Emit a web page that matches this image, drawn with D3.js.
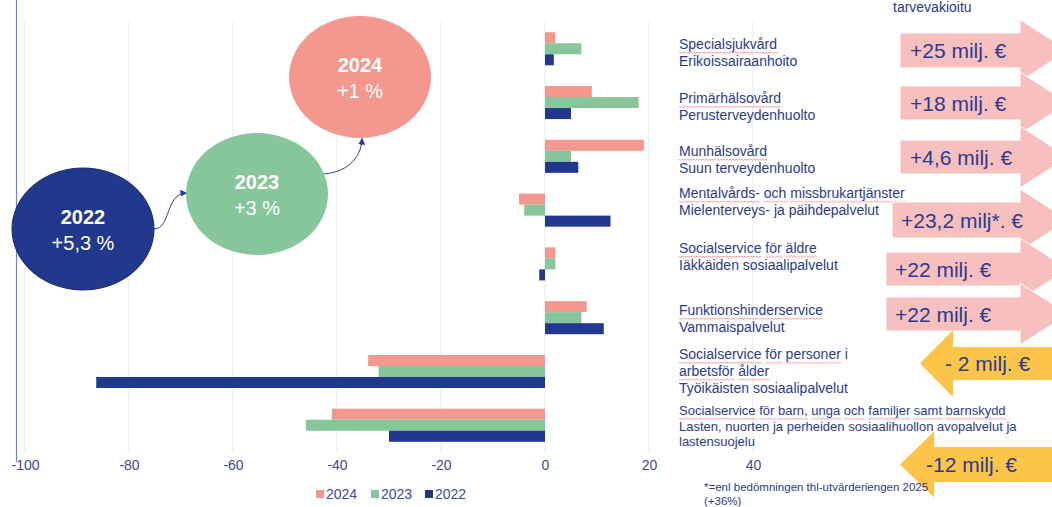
<!DOCTYPE html>
<html>
<head>
<meta charset="utf-8">
<script src="https://cdn.jsdelivr.net/npm/d3@7"></script>
<style>
  body { margin: 0; background: #fff; }
  svg { display: block; font-family: "Liberation Sans", Arial, sans-serif; }
</style>
</head>
<body>
<script>
// --- data ---
const categories = ["spec", "prim", "mun", "mental", "aldre", "funk", "arbets", "barn"];
const years = ["2024", "2023", "2022"];
const values2024 = [2, 9, 19, -5, 2, 8, -34, -41];
const values2023 = [7, 18, 5, -4, 2, 7, -32, -46];
const values2022 = [1.7, 5, 6.4, 12.6, -1.1, 11.3, -86.3, -30];
const xTicks = [-100, -80, -60, -40, -20, 0, 20, 40];

const labelSv = [
  ["Specialsjukvård"],
  ["Primärhälsovård"],
  ["Munhälsovård"],
  ["Mentalvårds- och missbrukartjänster"],
  ["Socialservice för äldre"],
  ["Funktionshinderservice"],
  ["Socialservice för personer i", "arbetsför ålder"],
  ["Socialservice för barn, unga och familjer samt barnskydd"]
];
const labelFi = [
  ["Erikoissairaanhoito"],
  ["Perusterveydenhuolto"],
  ["Suun terveydenhuolto"],
  ["Mielenterveys- ja päihdepalvelut"],
  ["Iäkkäiden sosiaalipalvelut"],
  ["Vammaispalvelut"],
  ["Työikäisten sosiaalipalvelut"],
  ["Lasten, nuorten ja perheiden sosiaalihuollon avopalvelut ja", "lastensuojelu"]
];
const changes = ["+25 milj. €", "+18 milj. €", "+4,6 milj. €", "+23,2 milj*. €",
                 "+22 milj. €", "+22 milj. €", "- 2 milj. €", "-12 milj. €"];

const growthYears = ["2022", "2023", "2024"];
const growthText = ["+5,3 %", "+3 %", "+1 %"];

const colors = { "2024": "#F4978E", "2023": "#86C69A", "2022": "#21398D" };
const navy = "#2B3A8E";

// --- layout ---
const W = 1052, H = 507;
const svg = d3.select("body").append("svg").attr("width", W).attr("height", H);

const x = d3.scaleLinear().domain([-100, 40]).range([25, 753]);
const y0 = d3.scaleBand().domain(categories).range([22, 452])
  .paddingInner(0.385).paddingOuter(0.19);
const y1 = d3.scaleBand().domain(years).range([0, y0.bandwidth()]);

// left slide border
svg.append("line").attr("x1", 16.5).attr("x2", 16.5).attr("y1", 0).attr("y2", 462)
  .attr("stroke", "#6C84D9").attr("stroke-width", 1.2);

// gridlines
svg.append("g").selectAll("line").data(xTicks).enter().append("line")
  .attr("x1", d => x(d)).attr("x2", d => x(d))
  .attr("y1", 22).attr("y2", 452)
  .attr("stroke", "#E2E7F4").attr("stroke-width", 1);

// bars
const rows = categories.map((c, i) => ({
  cat: c,
  vals: [
    { year: "2024", v: values2024[i] },
    { year: "2023", v: values2023[i] },
    { year: "2022", v: values2022[i] }
  ]
}));

svg.append("g").selectAll("g").data(rows).enter().append("g")
  .attr("transform", d => "translate(0," + y0(d.cat) + ")")
  .selectAll("rect").data(d => d.vals).enter().append("rect")
  .attr("x", d => x(Math.min(0, d.v)))
  .attr("width", d => Math.abs(x(d.v) - x(0)))
  .attr("y", d => y1(d.year))
  .attr("height", y1.bandwidth())
  .attr("fill", d => colors[d.year]);

// axis
const axis = svg.append("g").attr("transform", "translate(0,457)")
  .call(d3.axisBottom(x).tickValues(xTicks).tickFormat(d => String(d)).tickSize(0).tickPadding(3));
axis.select(".domain").remove();
axis.selectAll("text").attr("fill", "#3B4A9A").attr("font-size", 14)
  .attr("font-family", "Liberation Sans, Arial, sans-serif");

// legend
const leg = svg.append("g").attr("transform", "translate(316,494)");
const legX = [0, 55, 109];
years.forEach((yr, i) => {
  const g = leg.append("g").attr("transform", "translate(" + legX[i] + ",0)");
  g.append("rect").attr("x", 0).attr("y", -4).attr("width", 8).attr("height", 8)
    .attr("fill", colors[yr]);
  g.append("text").attr("x", 10).attr("y", 5).text(yr)
    .attr("font-size", 14).attr("fill", "#3B4A9A");
});

// right labels
const labelBase = [49, 103, 156, 198, 253, 315, 359, 415];
const wavy = svg.append("g");
categories.forEach((c, i) => {
  const small = i === 7;
  const fs = small ? 13 : 14;
  const lh = small ? 15.5 : 16.8;
  const lines = labelSv[i].map(t => ({ t, sv: true })).concat(labelFi[i].map(t => ({ t, sv: false })));
  lines.forEach((ln, j) => {
    const yy = labelBase[i] + j * lh;
    const t = svg.append("text").attr("x", 679).attr("y", yy)
      .attr("font-size", fs).attr("fill", navy).text(ln.t);
    if (ln.sv) {
      const node = t.node();
      let pos = 0;
      ln.t.split(" ").forEach(w => {
        if (w.length > 1) {
          const sx = 679 + (pos > 0 ? node.getSubStringLength(0, pos) : 0);
          const ww = node.getSubStringLength(pos, w.length);
          let p = "M" + sx + "," + (yy + 3);
          for (let k = 0, xx = sx; xx < sx + ww; k++) {
            xx += 1.5;
            p += " L" + xx + "," + (yy + 3 + (k % 2 === 0 ? 1.4 : 0));
          }
          wavy.append("path").attr("d", p).attr("fill", "none")
            .attr("stroke", "#F0797A").attr("stroke-width", 0.7);
        }
        pos += w.length + 1;
      });
    }
  });
});

// change arrows (right = pink, left = yellow)
const arrowLayout = [
  { cy: 50.5, bx: 900, bh: 35, tx: 910 },
  { cy: 103, bx: 900, bh: 34, tx: 910 },
  { cy: 157, bx: 900, bh: 34, tx: 910 },
  { cy: 220, bx: 892, bh: 36, tx: 901 },
  { cy: 269, bx: 886, bh: 34, tx: 895 },
  { cy: 314, bx: 886, bh: 34, tx: 895 },
  { cy: 363.5, bx: 953, bh: 33, tx: 945, tip: 920, hh: 33.5 },
  { cy: 464.5, bx: 934, bh: 35, tx: 926, tip: 900, hh: 33 }
];
const arrows = svg.append("g");
changes.forEach((c, i) => {
  const a = arrowLayout[i];
  const h = a.bh / 2;
  let d;
  if (c.trim().startsWith("+")) {
    const hb = 1020, tip = 1068, hh = 31;
    d = "M" + a.bx + "," + (a.cy - h) + " L" + hb + "," + (a.cy - h) + " L" + hb + "," + (a.cy - hh) +
      " L" + tip + "," + a.cy + " L" + hb + "," + (a.cy + hh) + " L" + hb + "," + (a.cy + h) +
      " L" + a.bx + "," + (a.cy + h) + "Z";
    arrows.append("path").attr("d", d).attr("fill", "#F7C0BE")
      .attr("stroke", "#fff").attr("stroke-width", 1);
  } else {
    d = "M" + 1060 + "," + (a.cy - h) + " L" + a.bx + "," + (a.cy - h) + " L" + a.bx + "," + (a.cy - a.hh) +
      " L" + a.tip + "," + a.cy + " L" + a.bx + "," + (a.cy + a.hh) + " L" + a.bx + "," + (a.cy + h) +
      " L" + 1060 + "," + (a.cy + h) + "Z";
    arrows.append("path").attr("d", d).attr("fill", "#FCC54A");
  }
});
changes.forEach((c, i) => {
  const a = arrowLayout[i];
  svg.append("text").attr("x", a.tx).attr("y", a.cy + 7.5)
    .attr("font-size", 21).attr("fill", navy).text(c);
});

svg.append("text").attr("x", 893).attr("y", 12).attr("font-size", 14)
  .attr("fill", navy).text("tarvevakioitu");

// footnote
svg.append("text").attr("x", 704).attr("y", 491).attr("font-size", 11.5)
  .attr("fill", navy).text("*=enl bedömningen thl-utvärderiengen 2025");
svg.append("text").attr("x", 704).attr("y", 505).attr("font-size", 11.5)
  .attr("fill", navy).text("(+36%)");

// growth bubbles
const bubbles = [
  { cx: 83, cy: 229 },
  { cx: 257, cy: 194 },
  { cx: 360, cy: 77 }
];
svg.append("defs").append("marker").attr("id", "ah")
  .attr("viewBox", "0 0 10 10").attr("refX", 8).attr("refY", 5)
  .attr("markerWidth", 7).attr("markerHeight", 7).attr("orient", "auto")
  .append("path").attr("d", "M0,0 L10,5 L0,10 Z").attr("fill", "#2B3E96");

svg.append("path").attr("d", "M154,229 C171,229 165,194 186,193")
  .attr("fill", "none").attr("stroke", "#2B3E96").attr("stroke-width", 1)
  .attr("marker-end", "url(#ah)");
svg.append("path").attr("d", "M322,174 C345,173 361,160 362,139")
  .attr("fill", "none").attr("stroke", "#2B3E96").attr("stroke-width", 1)
  .attr("marker-end", "url(#ah)");

growthYears.forEach((yr, i) => {
  const b = bubbles[i];
  svg.append("ellipse").attr("cx", b.cx).attr("cy", b.cy).attr("rx", 71).attr("ry", 61)
    .attr("fill", colors[yr])
    .attr("stroke", yr === "2022" ? "#1A2560" : "none").attr("stroke-width", 1);
  svg.append("text").attr("x", b.cx).attr("y", b.cy - 5).attr("text-anchor", "middle")
    .attr("font-size", 20).attr("font-weight", "bold").attr("fill", "#fff").text(yr);
  svg.append("text").attr("x", b.cx).attr("y", b.cy + 21).attr("text-anchor", "middle")
    .attr("font-size", 20).attr("fill", "#fff").text(growthText[i]);
});
</script>
</body>
</html>
